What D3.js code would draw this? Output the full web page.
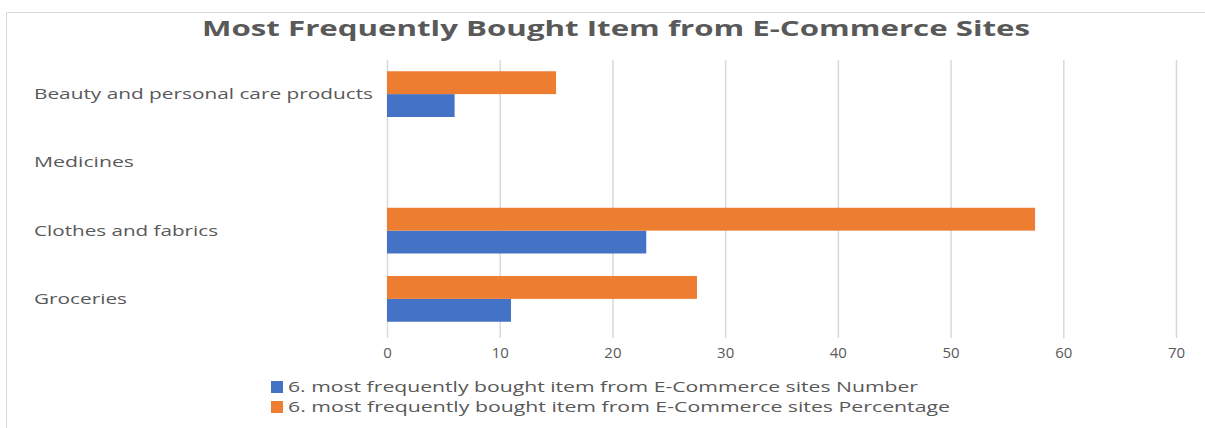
<!DOCTYPE html>
<html>
<head>
<meta charset="utf-8">
<script src="https://cdn.jsdelivr.net/npm/d3@7"></script>
<style>
  html, body { margin: 0; padding: 0; background: #fff; }
  svg { display: block; }
  text { font-family: "Open Sans", "Noto Sans", sans-serif; fill: #595959; }
</style>
</head>
<body>
<svg id="chart" width="1205" height="428"></svg>
<script>
// Categories, top to bottom
const categories = ["Beauty and personal care products", "Medicines", "Clothes and fabrics", "Groceries"];
// Series values per category
const numberValues = [6, 0, 23, 11];
const percentValues = [15, 0, 57.5, 27.5];
const seriesNames = [
  "6. most frequently bought item from E-Commerce sites Number",
  "6. most frequently bought item from E-Commerce sites Percentage"
];
const seriesColors = ["#4472c4", "#ed7d31"];
const xTicks = [0, 10, 20, 30, 40, 50, 60, 70];

const svg = d3.select("#chart");
const W = 1205, H = 428;

// Chart area frame
svg.append("path")
  .attr("d", `M6.5,${H} V12.5 H${W}`)
  .attr("fill", "none").attr("stroke", "#d9d9d9").attr("stroke-width", 1);

// Title
svg.append("text")
  .attr("x", 616).attr("y", 36)
  .attr("text-anchor", "middle")
  .attr("font-size", 22).attr("font-weight", "bold")
  .attr("textLength", 828).attr("lengthAdjust", "spacingAndGlyphs")
  .text("Most Frequently Bought Item from E-Commerce Sites");

const plot = { left: 387, right: 1176, top: 60, bottom: 333 };

const x = d3.scaleLinear().domain([0, 70]).range([plot.left, plot.right]);
const y = d3.scaleBand().domain(categories).range([plot.top, plot.bottom]).paddingInner(0.33).paddingOuter(0.165);
const sub = d3.scaleBand().domain([1, 0]).range([0, y.bandwidth()]);

// Vertical gridlines with small ticks below the plot
const grid = svg.append("g");
grid.selectAll("line").data(xTicks).join("line")
  .attr("x1", d => x(d) + 0.5).attr("x2", d => x(d) + 0.5)
  .attr("y1", plot.top).attr("y2", plot.bottom + 5)
  .attr("stroke", "#d9d9d9").attr("stroke-width", 1.5);

// X axis labels
const xAxis = d3.axisBottom(x).tickValues(xTicks).tickSize(0).tickPadding(0);
const gx = svg.append("g").attr("transform", `translate(0,${plot.bottom + 8})`).call(xAxis);
gx.select(".domain").remove();
gx.selectAll("text")
  .attr("font-size", 15).attr("fill", "#595959")
  .attr("dy", "1.15em")
  .style("font-family", "'Open Sans', sans-serif");

// Category labels, left-aligned
const widths = [339, 100, 184, 93];
svg.append("g").selectAll("text").data(categories).join("text")
  .attr("x", 34)
  .attr("y", d => y(d) + y.bandwidth() / 2 + 5)
  .attr("font-size", 14.5)
  .attr("textLength", (d, i) => widths[i]).attr("lengthAdjust", "spacingAndGlyphs")
  .text(d => d);

// Bars
const series = [numberValues, percentValues];
series.forEach((vals, si) => {
  svg.append("g").selectAll("rect").data(categories).join("rect")
    .attr("x", x(0))
    .attr("y", d => y(d) + sub(si))
    .attr("width", (d, i) => x(vals[i]) - x(0))
    .attr("height", sub.bandwidth())
    .attr("fill", seriesColors[si]);
});

// Legend
const legend = svg.append("g");
const legendWidths = [630, 662];
seriesNames.forEach((name, i) => {
  const ly = 381 + i * 20;
  legend.append("rect").attr("x", 271).attr("y", ly).attr("width", 12).attr("height", 12).attr("fill", seriesColors[i]);
  legend.append("text").attr("x", 288).attr("y", ly + 11)
    .attr("font-size", 14.5)
    .attr("textLength", legendWidths[i]).attr("lengthAdjust", "spacingAndGlyphs")
    .text(name);
});
</script>
</body>
</html>
